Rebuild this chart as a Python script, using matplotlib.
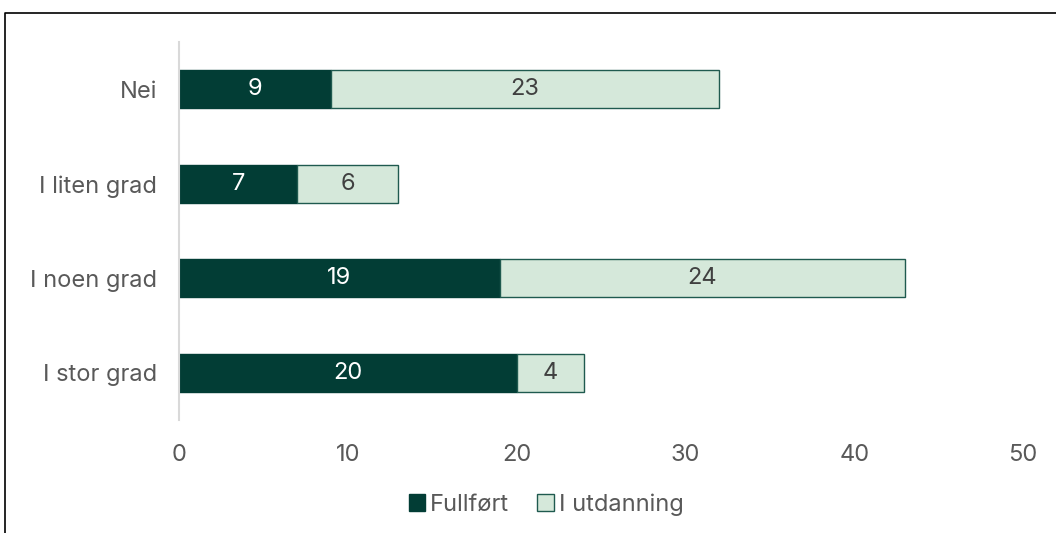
import matplotlib.pyplot as plt
from matplotlib.lines import Line2D
from matplotlib.patches import Patch

categories = ['Nei', 'I liten grad', 'I noen grad', 'I stor grad']
fullfort = [9, 7, 19, 20]
i_utdanning = [23, 6, 24, 4]
xticks = [0, 10, 20, 30, 40, 50]

dark = '#023d35'
light = '#d5e8da'
edge = '#1f5a4f'
grey = '#595959'

plt.rcParams['font.family'] = ['Inter', 'DejaVu Sans']

fig = plt.figure(figsize=(10.56, 5.33), dpi=100)
ax = fig.add_axes([0.1695, 0.212, 0.7993, 0.709])

ypos = list(range(len(categories)))[::-1]
ax.barh(ypos, fullfort, height=0.4, color=dark, edgecolor=dark, linewidth=1)
ax.barh(ypos, i_utdanning, left=fullfort, height=0.4, color=light, edgecolor=edge, linewidth=1)

for y, a, b in zip(ypos, fullfort, i_utdanning):
    ax.text(a / 2, y, str(a), ha='center', va='center', color='white', fontsize=17)
    ax.text(a + b / 2, y, str(b), ha='center', va='center', color='#404040', fontsize=17)

ax.set_xlim(0, 50)
ax.set_ylim(-0.5, 3.5)
ax.set_xticks(xticks)
ax.set_yticks(ypos)
ax.set_yticklabels(categories)
ax.tick_params(axis='both', length=0, labelsize=17, colors=grey)
ax.tick_params(axis='x', pad=17)
ax.tick_params(axis='y', pad=16)
for s in ['top', 'right', 'bottom']:
    ax.spines[s].set_visible(False)
ax.spines['left'].set_color('#d9d9d9')
ax.spines['left'].set_linewidth(1.5)

handles = [Patch(facecolor=dark, edgecolor=dark, label='Fullført'),
           Patch(facecolor=light, edgecolor=edge, label='I utdanning')]
fig.legend(handles=handles, loc='center', bbox_to_anchor=(0.517, 0.053), ncol=2,
           frameon=False, fontsize=17, labelcolor=grey, handlelength=0.7,
           handleheight=0.7, handletextpad=0.2, columnspacing=1.2)

# frame around the chart (top and left edges only, as in the source image)
fig.add_artist(Line2D([5 / 1056, 5 / 1056, 1.0], [0.0, 1 - 13 / 533, 1 - 13 / 533],
                      transform=fig.transFigure, color='black', linewidth=1.2))

fig.savefig('out.png', dpi=100)
